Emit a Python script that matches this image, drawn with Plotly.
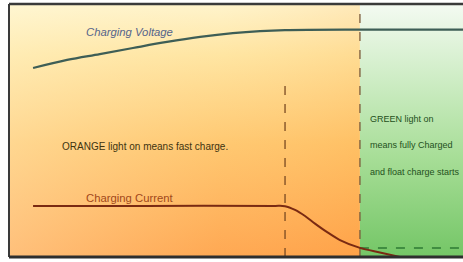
import plotly.graph_objects as go

# time axis (0-100) and level axis (0-100)
phase_fast_end = 77.3      # orange -> green boundary
taper_start = 60.8         # current begins to taper
t_start, t_end = 0.0, 100.0

volt_t = [5.3, 12.8, 20.0, 27.3, 34.8, 42.1, 49.3, 55.3, 60.8, 77.3, 100.0]
volt_v = [74.7, 77.9, 80.2, 82.6, 85.0, 87.0, 88.5, 89.3, 89.7, 89.9, 89.9]

curr_t = [5.3, 30.0, 58.5, 60.8, 63.0, 65.2, 67.4, 70.0, 72.9, 77.3, 81.7, 86.1]
curr_v = [20.2, 20.2, 20.2, 20.1, 18.6, 16.2, 13.2, 9.9, 6.7, 3.6, 1.8, 0.0]

float_level = 3.6
taper_line_top = 68.4

FONT = "Liberation Sans, Arial, sans-serif"

fig = go.Figure()

# orange region (vertical gradient)
fig.add_trace(go.Scatter(
    x=[t_start, phase_fast_end, phase_fast_end, t_start, t_start],
    y=[0, 0, 100, 100, 0], fill="toself", mode="lines",
    line=dict(width=0), hoverinfo="skip", showlegend=False,
    fillgradient=dict(type="vertical",
                      colorscale=[[0, "#FFA046"], [0.45, "#FFC468"], [0.8, "#FFE49E"], [1, "#FFF4CC"]])))
# left-side lightening overlay
fig.add_trace(go.Scatter(
    x=[t_start, phase_fast_end, phase_fast_end, t_start, t_start],
    y=[0, 0, 100, 100, 0], fill="toself", mode="lines",
    line=dict(width=0), hoverinfo="skip", showlegend=False,
    fillgradient=dict(type="horizontal",
                      colorscale=[[0, "rgba(255,250,220,0.35)"], [0.6, "rgba(255,240,200,0.1)"], [1, "rgba(255,170,80,0.15)"]])))
# green region
fig.add_trace(go.Scatter(
    x=[phase_fast_end, t_end, t_end, phase_fast_end, phase_fast_end],
    y=[0, 0, 100, 100, 0], fill="toself", mode="lines",
    line=dict(width=0), hoverinfo="skip", showlegend=False,
    fillgradient=dict(type="vertical",
                      colorscale=[[0, "#74C666"], [0.4, "#A8DE98"], [0.75, "#D4EFCC"], [1, "#F4FAF2"]])))

# dashed markers
fig.add_trace(go.Scatter(x=[taper_start, taper_start], y=[0, taper_line_top], mode="lines",
                         line=dict(color="#7A4A22", width=1.3, dash="dash"), showlegend=False))
fig.add_trace(go.Scatter(x=[phase_fast_end, phase_fast_end], y=[0, 100], mode="lines",
                         line=dict(color="#7A5A3A", width=1.3, dash="dash"), showlegend=False))
fig.add_trace(go.Scatter(x=[phase_fast_end, t_end], y=[float_level, float_level], mode="lines",
                         line=dict(color="#2E7A34", width=1.5, dash="dash"), showlegend=False))

# curves
fig.add_trace(go.Scatter(x=volt_t, y=volt_v, mode="lines", line=dict(color="#3E5E56", width=2.2, shape="spline"),
                         showlegend=False))
fig.add_trace(go.Scatter(x=curr_t, y=curr_v, mode="lines",
                         line=dict(color="#7A2A12", width=2, shape="spline", smoothing=0.8),
                         showlegend=False))

ann = [
    dict(x=16.5, y=88.9, text="<i>Charging Voltage</i>", color="#56648A", size=11.3, xanchor="left"),
    dict(x=11.2, y=43.5, text="ORANGE light on means fast charge.", color="#3E3410", size=10, xanchor="left"),
    dict(x=16.5, y=23.3, text="Charging Current", color="#A2481A", size=11.3, xanchor="left"),
    dict(x=79.1, y=54.5, text="GREEN light on", color="#24501C", size=9, xanchor="left"),
    dict(x=79.1, y=44.3, text="means fully Charged", color="#24501C", size=9, xanchor="left"),
    dict(x=79.1, y=33.6, text="and float charge starts", color="#24501C", size=9, xanchor="left"),
]
for a in ann:
    fig.add_annotation(x=a["x"], y=a["y"], text=a["text"], showarrow=False, xanchor=a["xanchor"],
                       yanchor="middle", font=dict(family=FONT, size=a["size"], color=a["color"]))

# frame lines (left, top, bottom)
fig.add_shape(type="line", xref="paper", yref="paper", x0=0, x1=0, y0=0, y1=1,
              line=dict(color="#3A3A3A", width=2))
fig.add_shape(type="line", xref="paper", yref="paper", x0=0, x1=1, y0=1, y1=1,
              line=dict(color="#3A3A3A", width=2.5))
fig.add_shape(type="line", xref="paper", yref="paper", x0=0, x1=1, y0=0, y1=0,
              line=dict(color="#2E2E2E", width=3))

fig.update_xaxes(range=[t_start, t_end], visible=False, fixedrange=True)
fig.update_yaxes(range=[0, 100], visible=False, fixedrange=True)
fig.update_layout(width=463, height=262, margin=dict(l=9, r=0, t=4, b=5),
                  paper_bgcolor="white", plot_bgcolor="white", showlegend=False)

fig.write_html("out.html", config={"displayModeBar": False},
               post_script="document.body.style.margin='0';document.body.style.overflow='hidden';")
